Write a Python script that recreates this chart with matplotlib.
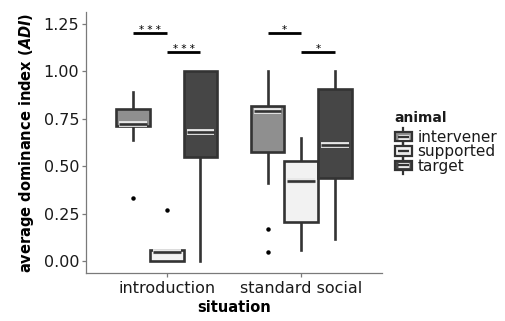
import matplotlib
matplotlib.use("Agg")
import matplotlib.pyplot as plt
import matplotlib.patheffects as pe
from matplotlib.patches import Patch, Rectangle
from matplotlib.lines import Line2D
from matplotlib.legend_handler import HandlerBase

# data (box stats per animal, one value per situation)
situations = ["introduction", "standard social"]
animals = ["intervener", "supported", "target"]
fills = ["#8f8f8f", "#f2f2f2", "#464646"]

q1 = {"intervener": [0.71, 0.575], "supported": [0.0, 0.205], "target": [0.55, 0.44]}
med = {"intervener": [0.725, 0.79], "supported": [0.05, 0.42], "target": [0.68, 0.61]}
q3 = {"intervener": [0.80, 0.815], "supported": [0.06, 0.525], "target": [1.0, 0.905]}
whislo = {"intervener": [0.64, 0.41], "supported": [0.0, 0.06], "target": [0.0, 0.115]}
whishi = {"intervener": [0.89, 1.0], "supported": [0.06, 0.65], "target": [1.0, 1.0]}
fliers = {"intervener": [[0.33], [0.17, 0.05]], "supported": [[0.27], []], "target": [[], []]}

# significance brackets: (situation index, animal a, animal b, height, label)
sig = [(0, 0, 1, 1.2, "* * *"), (0, 1, 2, 1.1, "* * *"),
       (1, 0, 1, 1.2, "*"), (1, 1, 2, 1.1, "*")]

edge = "#333333"
dodge = 0.25
plt.rcParams["font.family"] = "DejaVu Sans"

fig = plt.figure(figsize=(5.05, 3.21), dpi=100)
ax = fig.add_axes([86/505, (321-273)/321, (382-86)/505, (273-12)/321])

med_fx = [pe.Stroke(linewidth=4.2, foreground="#e8e8e8"), pe.Normal()]

for j, a in enumerate(animals):
    stats = []
    pos = []
    for i, s in enumerate(situations):
        stats.append(dict(med=med[a][i], q1=q1[a][i], q3=q3[a][i],
                          whislo=whislo[a][i], whishi=whishi[a][i],
                          fliers=fliers[a][i]))
        pos.append(i + 1 + (j - 1) * dodge)
    bp = ax.bxp(stats, positions=pos, widths=dodge, patch_artist=True,
                showcaps=False,
                boxprops=dict(facecolor=fills[j], edgecolor=edge, linewidth=1.9),
                whiskerprops=dict(color=edge, linewidth=1.9),
                medianprops=dict(color=edge, linewidth=1.9, solid_capstyle="butt"),
                flierprops=dict(marker="o", markersize=2.2, markerfacecolor="black",
                                markeredgecolor="black"))
    for w in bp["whiskers"]:
        w.set_zorder(1)
    for b in bp["boxes"]:
        b.set_zorder(2)
    for m in bp["medians"]:
        xs = m.get_xdata()
        inset = 0.09 * dodge
        m.set_xdata([xs[0] + inset, xs[1] - inset])
        m.set_path_effects(med_fx)
        m.set_zorder(3)

for i, a, b, y, lab in sig:
    x1 = i + 1 + (a - 1) * dodge
    x2 = i + 1 + (b - 1) * dodge
    ax.plot([x1, x2], [y, y], color="black", lw=2.0, solid_capstyle="butt")
    ax.text((x1 + x2) / 2, y + 0.004, lab, ha="center", va="baseline",
            fontsize=7.5, color="black")

ax.set_xlim(0.4, 2.6)
ax.set_ylim(-0.0625, 1.3125)
ax.set_xticks([1, 2])
ax.set_xticklabels(situations)
ax.set_yticks([0, 0.25, 0.5, 0.75, 1.0, 1.25])
ax.set_yticklabels(["0.00", "0.25", "0.50", "0.75", "1.00", "1.25"])
for sp in ["top", "right"]:
    ax.spines[sp].set_visible(False)
for sp in ["left", "bottom"]:
    ax.spines[sp].set_color("#7a7a7a")
    ax.spines[sp].set_linewidth(0.9)
ax.tick_params(colors="#7a7a7a", labelcolor="#1a1a1a", length=3, width=0.9,
               labelsize=11.5)
ax.tick_params(axis="y", pad=2)
ax.tick_params(axis="x", pad=3)

ax.set_xlabel("situation", fontsize=10.5, fontweight="bold", labelpad=3)
ax.set_ylabel("average dominance index ($\\mathbfit{ADI}$)", fontsize=10.5,
              fontweight="bold", labelpad=5)


class BoxKey(HandlerBase):
    def create_artists(self, legend, orig_handle, xdescent, ydescent,
                       width, height, fontsize, trans):
        fc = orig_handle.get_facecolor()
        x0, y0 = -xdescent, -ydescent
        cx = x0 + width / 2
        whisk = Line2D([cx, cx], [y0 - 0.25 * height, y0 + 1.25 * height],
                       color=edge, lw=1.6, transform=trans)
        box = Rectangle((x0 + 0.06 * width, y0 + 0.08 * height), 0.88 * width,
                        0.84 * height, facecolor=fc, edgecolor=edge, lw=1.6,
                        transform=trans)
        m = Line2D([x0 + 0.22 * width, x0 + 0.78 * width],
                   [y0 + height / 2] * 2, color=edge, lw=1.6, transform=trans,
                   solid_capstyle="butt",
                   path_effects=[pe.Stroke(linewidth=3.6, foreground="#e8e8e8"),
                                 pe.Normal()])
        return [whisk, box, m]


handles = [Patch(facecolor=c) for c in fills]
fig.text(394/505, 1 - 122/321, "animal", fontsize=10, fontweight="bold",
         va="baseline", ha="left", color="#1a1a1a")
leg = fig.legend(handles, animals, loc="upper left",
                 bbox_to_anchor=(394/505, (321-130)/321),
                 frameon=False, fontsize=11, handlelength=1.24,
                 handleheight=0.72, handletextpad=0.28, labelspacing=-0.04,
                 borderpad=0, borderaxespad=0,
                 handler_map={Patch: BoxKey()})
for t in leg.get_texts():
    t.set_color("#1a1a1a")

fig.savefig("out.png", dpi=100)
